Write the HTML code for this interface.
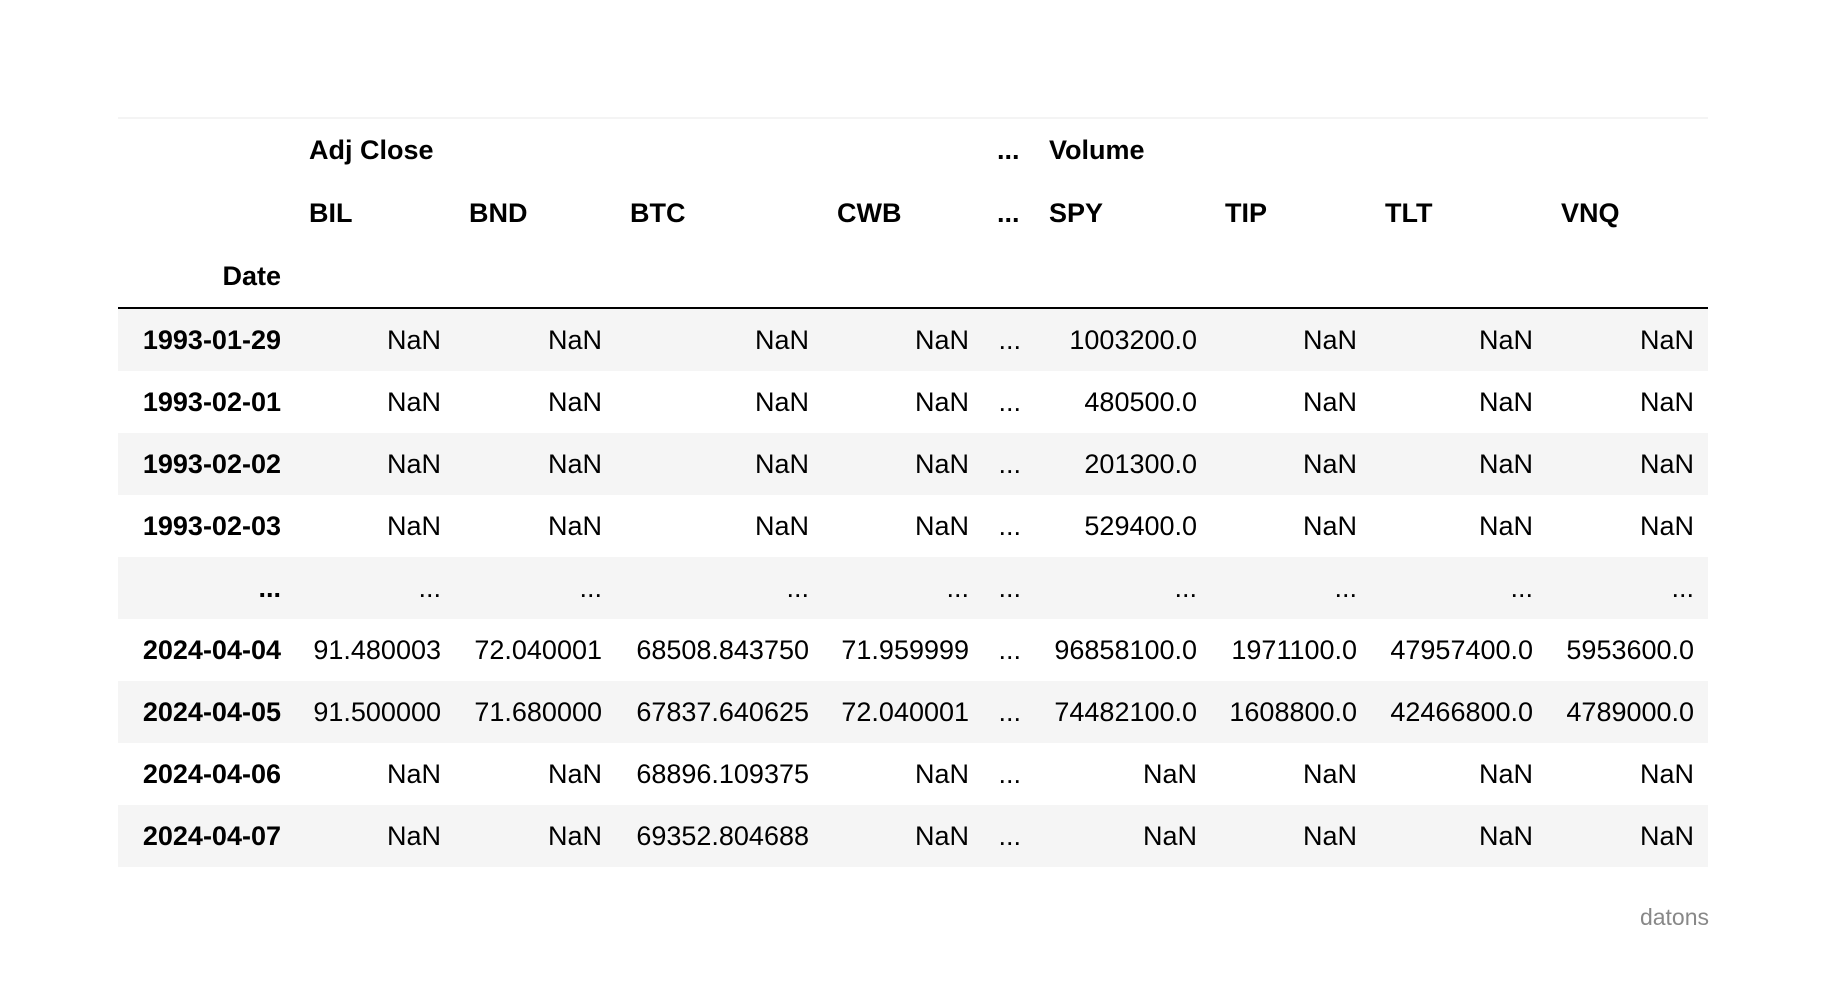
<!DOCTYPE html>
<html><head><meta charset="utf-8"><style>
html,body{margin:0;padding:0;background:#fff;width:1826px;height:984px;overflow:hidden}
body{font-family:"Liberation Sans",Arial,sans-serif;color:#000}
table{position:absolute;left:118px;top:117px;border-collapse:collapse;table-layout:fixed;width:1590px;font-size:27px;border-top:2px solid #f4f4f4}
td,th{padding:0 14px;white-space:nowrap;overflow:visible}
thead th{height:63px;text-align:left;font-weight:bold}
thead tr:last-child th{border-bottom:2px solid #000;height:62px}
tbody td{height:62px;text-align:right}
tbody th{text-align:right;font-weight:bold}
tbody tr:nth-child(odd){background:#f5f5f5}
#wm{position:absolute;right:117px;top:904px;font-size:23px;color:#888}
</style></head><body>
<table>
<colgroup><col style="width:177px"><col style="width:160px"><col style="width:161px"><col style="width:207px"><col style="width:160px"><col style="width:52px"><col style="width:176px"><col style="width:160px"><col style="width:176px"><col style="width:161px"></colgroup>
<thead>
<tr><th></th><th colspan="4">Adj Close</th><th>...</th><th colspan="4">Volume</th></tr>
<tr><th></th><th>BIL</th><th>BND</th><th>BTC</th><th>CWB</th><th>...</th><th>SPY</th><th>TIP</th><th>TLT</th><th>VNQ</th></tr>
<tr><th style="text-align:right">Date</th><th></th><th></th><th></th><th></th><th></th><th></th><th></th><th></th><th></th></tr>
</thead>
<tbody>
<tr><th>1993-01-29</th><td>NaN</td><td>NaN</td><td>NaN</td><td>NaN</td><td>...</td><td>1003200.0</td><td>NaN</td><td>NaN</td><td>NaN</td></tr>
<tr><th>1993-02-01</th><td>NaN</td><td>NaN</td><td>NaN</td><td>NaN</td><td>...</td><td>480500.0</td><td>NaN</td><td>NaN</td><td>NaN</td></tr>
<tr><th>1993-02-02</th><td>NaN</td><td>NaN</td><td>NaN</td><td>NaN</td><td>...</td><td>201300.0</td><td>NaN</td><td>NaN</td><td>NaN</td></tr>
<tr><th>1993-02-03</th><td>NaN</td><td>NaN</td><td>NaN</td><td>NaN</td><td>...</td><td>529400.0</td><td>NaN</td><td>NaN</td><td>NaN</td></tr>
<tr><th>...</th><td>...</td><td>...</td><td>...</td><td>...</td><td>...</td><td>...</td><td>...</td><td>...</td><td>...</td></tr>
<tr><th>2024-04-04</th><td>91.480003</td><td>72.040001</td><td>68508.843750</td><td>71.959999</td><td>...</td><td>96858100.0</td><td>1971100.0</td><td>47957400.0</td><td>5953600.0</td></tr>
<tr><th>2024-04-05</th><td>91.500000</td><td>71.680000</td><td>67837.640625</td><td>72.040001</td><td>...</td><td>74482100.0</td><td>1608800.0</td><td>42466800.0</td><td>4789000.0</td></tr>
<tr><th>2024-04-06</th><td>NaN</td><td>NaN</td><td>68896.109375</td><td>NaN</td><td>...</td><td>NaN</td><td>NaN</td><td>NaN</td><td>NaN</td></tr>
<tr><th>2024-04-07</th><td>NaN</td><td>NaN</td><td>69352.804688</td><td>NaN</td><td>...</td><td>NaN</td><td>NaN</td><td>NaN</td><td>NaN</td></tr>
</tbody>
</table>
<div id="wm">datons</div>
</body></html>
